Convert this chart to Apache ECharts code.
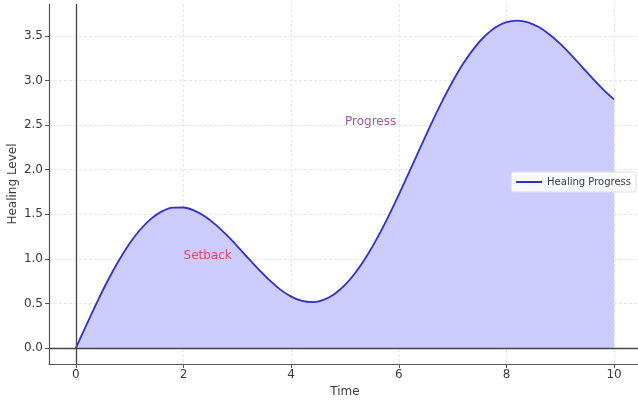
<!DOCTYPE html>
<html>
<head>
<meta charset="utf-8">
<script src="https://cdn.jsdelivr.net/npm/echarts@6/dist/echarts.min.js"></script>
<style>
  html, body { margin: 0; padding: 0; background: #fff; }
  #chart { width: 638px; height: 403px; }
</style>
</head>
<body>
<div id="chart"></div>
<script>
// values
const timeValues = [
  0, 0.2, 0.4, 0.6, 0.8, 1, 1.2, 1.4, 1.6, 1.8, 2, 2.2, 2.4, 2.6, 2.8, 3, 3.2, 3.4,
  3.6, 3.8, 4, 4.2, 4.4, 4.6, 4.8, 5, 5.2, 5.4, 5.6, 5.8, 6, 6.2, 6.4, 6.6, 6.8, 7,
  7.2, 7.4, 7.6, 7.8, 8, 8.2, 8.4, 8.6, 8.8, 9, 9.2, 9.4, 9.6, 9.8, 10
];
const healingValues = [
  0, 0.265, 0.523, 0.765, 0.984, 1.175, 1.332, 1.452, 1.533, 1.574, 1.576, 1.542,
  1.476, 1.382, 1.268, 1.141, 1.008, 0.878, 0.758, 0.655, 0.576, 0.528, 0.515,
  0.54, 0.604, 0.708, 0.85, 1.027, 1.235, 1.469, 1.721, 1.984, 2.25, 2.512, 2.761,
  2.99, 3.194, 3.365, 3.501, 3.599, 3.656, 3.674, 3.655, 3.601, 3.518, 3.412, 3.29,
  3.158, 3.026, 2.9, 2.789
];
const xTicks = [0, 2, 4, 6, 8, 10];
const yTicks = [0, 0.5, 1, 1.5, 2, 2.5, 3, 3.5];
const noteLabels = ['Setback', 'Progress'];
const noteX = [2, 5];
const noteY = [1.0, 2.5];
const noteColors = ['#e8283c', '#8a2a8a'];

const FONT = 'DejaVu Sans';
const TEXT = '#3a3a3a';

const chart = echarts.init(document.getElementById('chart'));

chart.setOption({
  animation: false,
  grid: { left: 49, right: -3, top: 4, bottom: 39, outerBoundsMode: 'none' },
  legend: {
    data: ['Healing Progress'],
    right: 2,
    top: 172,
    backgroundColor: 'rgba(255,255,255,0.85)',
    borderColor: '#ddd',
    borderWidth: 1,
    borderRadius: 2,
    padding: [5, 5],
    itemWidth: 26,
    itemHeight: 2,
    itemGap: 6,
    icon: 'rect',
    textStyle: { fontFamily: FONT, fontSize: 10, color: TEXT },
  },
  xAxis: {
    type: 'value',
    min: -0.5,
    max: 10.5,
    name: 'Time',
    nameLocation: 'middle',
    nameGap: 22,
    nameMoveOverlap: false,
    nameTextStyle: { fontFamily: FONT, fontSize: 12, color: TEXT },
    axisLine: { show: true, onZero: false, lineStyle: { color: '#555', width: 1.2 } },
    axisTick: { show: true, length: 4, customValues: xTicks, lineStyle: { color: '#555' } },
    axisLabel: { customValues: xTicks, fontFamily: FONT, fontSize: 12, color: TEXT, margin: 5 },
    splitLine: { show: true, customValues: xTicks, lineStyle: { color: '#e6e6e6', type: [3, 2], width: 1 } },
  },
  yAxis: {
    type: 'value',
    min: -0.18,
    max: 3.86,
    name: 'Healing Level',
    nameLocation: 'middle',
    nameGap: 30,
    nameMoveOverlap: false,
    nameTextStyle: { fontFamily: FONT, fontSize: 12, color: TEXT },
    axisLine: { show: true, onZero: false, lineStyle: { color: '#555', width: 1.2 } },
    axisTick: { show: true, length: 4, customValues: yTicks, lineStyle: { color: '#555' } },
    axisLabel: {
      customValues: yTicks, fontFamily: FONT, fontSize: 12, color: TEXT, margin: 6,
      formatter: v => v.toFixed(1),
    },
    splitLine: { show: true, customValues: yTicks, lineStyle: { color: '#e6e6e6', type: [3, 2], width: 1 } },
  },
  series: [
    {
      name: 'Healing Progress',
      type: 'line',
      smooth: 0.35,
      symbol: 'none',
      data: timeValues.map((t, i) => [t, healingValues[i]]),
      lineStyle: { color: '#2f2fd6', width: 1.8 },
      itemStyle: { color: '#2f2fd6' },
      areaStyle: { color: '#ccccff', opacity: 1, origin: 0 },
      markLine: {
        silent: true,
        symbol: 'none',
        label: { show: false },
        lineStyle: { color: '#444', width: 1.3, type: 'solid' },
        data: [{ xAxis: 0 }, { yAxis: 0 }],
      },
      z: 2,
    },
    {
      type: 'scatter',
      silent: true,
      symbolSize: 0,
      data: noteLabels.map((s, i) => ({
        value: [noteX[i], noteY[i]],
        label: {
          show: true,
          formatter: s,
          position: [0, 3],
          align: 'left',
          verticalAlign: 'bottom',
          color: noteColors[i],
          fontFamily: FONT,
          fontSize: 12,
        },
      })),
      z: 5,
    },
  ],
});
</script>
</body>
</html>
